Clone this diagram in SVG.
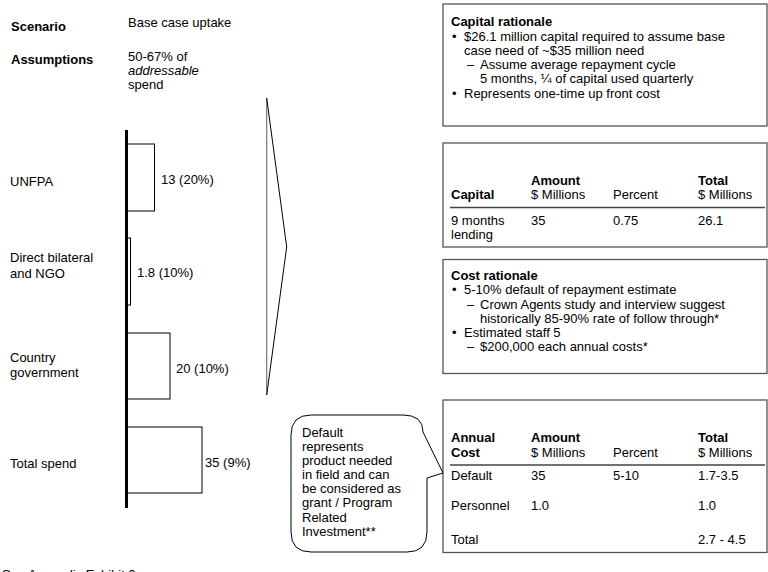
<svg xmlns="http://www.w3.org/2000/svg" width="768" height="572" viewBox="0 0 768 572">
  <style>
    text { font-family: "Liberation Sans", Arial, sans-serif; font-size: 13px; fill: #000; }
    .b { font-weight: bold; }
    .i { font-style: italic; }
    .bar { fill: #fff; stroke: #000; stroke-width: 1; }
    .panel { fill: #fff; stroke: #555; stroke-width: 1.3; }
    .rule { stroke: #444; stroke-width: 1.5; }
  </style>

  <rect width="768" height="572" fill="#fff"/>

  <!-- header -->
  <g id="header">
    <text class="b" x="11" y="31">Scenario</text>
    <text x="128" y="27">Base case uptake</text>
    <text class="b" x="11" y="64">Assumptions</text>
    <text x="128" y="61">50-67% of</text>
    <text class="i" x="128" y="75">addressable</text>
    <text x="128" y="89">spend</text>
  </g>

  <!-- bar chart -->
  <g id="chart">
    <rect class="bar" x="127.5" y="144" width="27" height="67"/>
    <rect class="bar" x="127.5" y="238" width="3" height="67"/>
    <rect class="bar" x="127.5" y="333" width="42.5" height="66"/>
    <rect class="bar" x="127.5" y="427" width="74.5" height="66"/>
    <line x1="126.5" y1="130" x2="126.5" y2="508" stroke="#000" stroke-width="3"/>

    <text x="10" y="186">UNFPA</text>
    <text x="161" y="184">13 (20%)</text>

    <text x="10" y="262">Direct bilateral</text>
    <text x="10" y="278">and NGO</text>
    <text x="137" y="277">1.8 (10%)</text>

    <text x="10" y="362">Country</text>
    <text x="10" y="377">government</text>
    <text x="176" y="373">20 (10%)</text>

    <text x="10" y="468">Total spend</text>
    <text x="205" y="467">35 (9%)</text>
  </g>

  <!-- chevron pointing to the right-hand panels -->
  <g id="chevron">
    <line x1="266.7" y1="98" x2="266.7" y2="395" stroke="#777" stroke-width="1.2"/>
    <polyline points="266.7,98 286.7,247 266.7,395" fill="none" stroke="#000" stroke-width="1"/>
  </g>

  <!-- capital rationale -->
  <g id="capital-rationale">
    <rect class="panel" x="443" y="4" width="324" height="122"/>
    <text class="b" x="451" y="26">Capital rationale</text>
    <text x="452" y="40.5">•</text>
    <text x="464" y="40.5">$26.1 million capital required to assume base</text>
    <text x="464" y="55">case need of ~$35 million need</text>
    <text x="467" y="69">–</text>
    <text x="480" y="69">Assume average repayment cycle</text>
    <text x="480" y="83">5 months, ¼ of capital used quarterly</text>
    <text x="452" y="97.5">•</text>
    <text x="464" y="97.5">Represents one-time up front cost</text>
  </g>

  <!-- capital table -->
  <g id="capital-table">
    <rect class="panel" x="443" y="143" width="324" height="104"/>
    <text class="b" x="531" y="185">Amount</text>
    <text class="b" x="698" y="185">Total</text>
    <text class="b" x="451" y="198.5">Capital</text>
    <text x="531" y="198.5">$ Millions</text>
    <text x="613" y="198.5">Percent</text>
    <text x="698" y="198.5">$ Millions</text>
    <line class="rule" x1="450" y1="207.5" x2="765" y2="207.5"/>
    <text x="451" y="225">9 months</text>
    <text x="451" y="238.5">lending</text>
    <text x="531" y="225">35</text>
    <text x="613" y="225">0.75</text>
    <text x="698" y="225">26.1</text>
  </g>

  <!-- cost rationale -->
  <g id="cost-rationale">
    <rect class="panel" x="443" y="259.5" width="324" height="114"/>
    <text class="b" x="451" y="280">Cost rationale</text>
    <text x="452" y="294">•</text>
    <text x="464" y="294">5-10% default of repayment estimate</text>
    <text x="467" y="308.5">–</text>
    <text x="480" y="308.5">Crown Agents study and interview suggest</text>
    <text x="480" y="322.5">historically 85-90% rate of follow through*</text>
    <text x="452" y="336.5">•</text>
    <text x="464" y="336.5">Estimated staff 5</text>
    <text x="467" y="350.5">–</text>
    <text x="480" y="350.5">$200,000 each annual costs*</text>
  </g>

  <!-- annual cost table -->
  <g id="annual-cost-table">
    <rect class="panel" x="443" y="400" width="324" height="152.5"/>
    <text class="b" x="451" y="441.5">Annual</text>
    <text class="b" x="451" y="456.5">Cost</text>
    <text class="b" x="531" y="441.5">Amount</text>
    <text x="531" y="456.5">$ Millions</text>
    <text x="613" y="456.5">Percent</text>
    <text class="b" x="698" y="441.5">Total</text>
    <text x="698" y="456.5">$ Millions</text>
    <line class="rule" x1="450" y1="465" x2="765" y2="465"/>
    <text x="451" y="480">Default</text>
    <text x="531" y="480">35</text>
    <text x="613" y="480">5-10</text>
    <text x="698" y="480">1.7-3.5</text>
    <text x="451" y="509.5">Personnel</text>
    <text x="531" y="509.5">1.0</text>
    <text x="698" y="509.5">1.0</text>
    <text x="451" y="544">Total</text>
    <text x="698" y="544">2.7 - 4.5</text>
  </g>

  <!-- speech-bubble note pointing at the Default row -->
  <g id="default-note">
    <path d="M 311,415 H 403 Q 423,415 423,432 L 443,473 L 427,478 V 532 Q 427,552 407,552 H 311 Q 291,552 291,532 V 435 Q 291,415 311,415 Z"
          fill="#fff" stroke="#000" stroke-width="1"/>
    <text x="302" y="436.5">Default</text>
    <text x="302" y="450.7">represents</text>
    <text x="302" y="465">product needed</text>
    <text x="302" y="479">in field and can</text>
    <text x="302" y="493">be considered as</text>
    <text x="302" y="507.3">grant / Program</text>
    <text x="302" y="521.5">Related</text>
    <text x="302" y="535.5">Investment**</text>
  </g>

  <!-- footnote -->
  <text x="2" y="578.5">See Appendix Exhibit 9</text>
</svg>
